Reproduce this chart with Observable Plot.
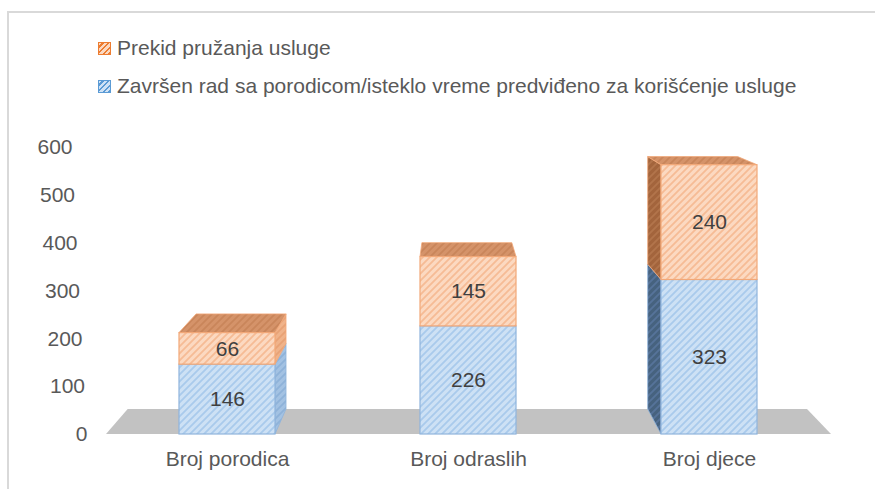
<!DOCTYPE html>
<html>
<head>
<meta charset="utf-8">
<script src="https://cdn.jsdelivr.net/npm/d3@7"></script>
<script src="https://cdn.jsdelivr.net/npm/@observablehq/plot@0.6"></script>
<style>
  html, body { margin: 0; padding: 0; background: #fff; }
  #wrap { position: relative; width: 875px; height: 489px; overflow: hidden; font-family: "Liberation Sans", Arial, sans-serif; }
  #frame { position: absolute; left: 7px; top: 11px; width: 900px; height: 600px; border-top: 2px solid #d9d9d9; border-left: 2px solid #d9d9d9; }
  .sw { position: absolute; left: 98px; width: 11px; height: 11px; border: 1.5px solid; }
  .lt { position: absolute; left: 117px; font-size: 21px; line-height: 24px; color: #595959; white-space: nowrap; }
  #chart { position: absolute; left: 0; top: 120px; }
</style>
</head>
<body>
<div id="wrap">
  <div id="frame"></div>
  <div id="legend"></div>
  <div id="chart"></div>
</div>
<script>
// ---- data ----
const categories = ["Broj porodica", "Broj odraslih", "Broj djece"];
const seriesNames = [
  "Završen rad sa porodicom/isteklo vreme predviđeno za korišćenje usluge",
  "Prekid pružanja usluge"
];
const completed = [146, 226, 323];
const interrupted = [66, 145, 240];
const yTicks = [0, 100, 200, 300, 400, 500, 600];
const legendOrder = ["Prekid pružanja usluge",
  "Završen rad sa porodicom/isteklo vreme predviđeno za korišćenje usluge"];

// ---- styles ----
const seriesStyle = {
  [seriesNames[0]]: {fill: "url(#pBlue)", stroke: "#8fb4dc", key: "blue",
    swBorder: "#5b9bd5", swBg: "repeating-linear-gradient(-45deg,#5b9bd5 0 1.5px,#cfe2f5 1.5px 4px)"},
  [seriesNames[1]]: {fill: "url(#pOrange)", stroke: "#f2a878", key: "orange",
    swBorder: "#ed7d31", swBg: "repeating-linear-gradient(-45deg,#ed7d31 0 1.5px,#fbd9c2 1.5px 4px)"}
};
const faceFill = {
  blue: {left: "url(#pBlueDark)", right: "url(#pBlueMid)", top: "url(#pBlueMid)"},
  orange: {left: "url(#pOrangeDark)", right: "url(#pOrangeMid)", top: "url(#pOrangeTop)"}
};

// ---- legend ----
const legend = document.getElementById("legend");
legendOrder.forEach((name, i) => {
  const st = seriesStyle[name];
  const sw = document.createElement("div");
  sw.className = "sw";
  sw.style.top = (42 + i * 38) + "px";
  sw.style.borderColor = st.swBorder;
  sw.style.background = st.swBg;
  const tx = document.createElement("div");
  tx.className = "lt";
  tx.style.top = (36 + i * 38) + "px";
  tx.textContent = name;
  legend.appendChild(sw);
  legend.appendChild(tx);
});

// ---- table ----
const rows = [];
categories.forEach((c, i) => {
  rows.push({cat: c, series: seriesNames[0], value: completed[i]});
  rows.push({cat: c, series: seriesNames[1], value: interrupted[i]});
});

const plot = Plot.plot({
  width: 875,
  height: 369,
  marginLeft: 106,
  marginRight: 44,
  marginTop: 27,
  marginBottom: 55,
  style: {fontFamily: "'Liberation Sans', Arial, sans-serif", fontSize: "21px", color: "#595959", background: "transparent", overflow: "visible"},
  x: {domain: categories, paddingInner: 0.6, paddingOuter: 0.3, label: null},
  y: {domain: [0, 600], label: null},
  color: {type: "identity"},
  marks: [
    Plot.axisY({ticks: yTicks, tickSize: 0, tickPadding: 34, label: null, fontSize: 21}),
    Plot.axisX({tickSize: 0, tickPadding: 17, label: null, fontSize: 21}),
    Plot.barY(rows, Plot.stackY({
      x: "cat", y: "value",
      fill: d => seriesStyle[d.series].fill,
      stroke: d => seriesStyle[d.series].stroke,
      strokeWidth: 1.2
    })),
    Plot.text(rows, Plot.stackY({x: "cat", y: "value", text: "value", fill: "#404040", fontSize: 21}))
  ]
});

// ---- patterns ----
const NS = "http://www.w3.org/2000/svg";
const defs = document.createElementNS(NS, "defs");
function pattern(id, base, stripe) {
  const p = document.createElementNS(NS, "pattern");
  p.setAttribute("id", id);
  p.setAttribute("patternUnits", "userSpaceOnUse");
  p.setAttribute("width", 7);
  p.setAttribute("height", 7);
  const r = document.createElementNS(NS, "rect");
  r.setAttribute("width", 7); r.setAttribute("height", 7); r.setAttribute("fill", base);
  const path = document.createElementNS(NS, "path");
  path.setAttribute("d", "M0,7 L7,0 M-1.75,1.75 L1.75,-1.75 M5.25,8.75 L8.75,5.25");
  path.setAttribute("stroke", stripe);
  path.setAttribute("stroke-width", 1.8);
  p.appendChild(r); p.appendChild(path);
  defs.appendChild(p);
}
pattern("pBlue", "#cde1f5", "#a9caec");
pattern("pOrange", "#fcd9c1", "#f6bb95");
pattern("pBlueDark", "#46627f", "#56739a");
pattern("pBlueMid", "#a3c2e3", "#8eb2d9");
pattern("pOrangeDark", "#a3643c", "#b2744b");
pattern("pOrangeMid", "#f0b38a", "#e8a275");
pattern("pOrangeTop", "#d59369", "#c9855a");
plot.insertBefore(defs, plot.firstChild);

// ---- 3D depth faces derived from the plot's scales ----
const xs = plot.scale("x"), ys = plot.scale("y");
const bw = xs.bandwidth;
const VP = [450, -84], depth = 0.063;
const back = ([x, y]) => [x + depth * (VP[0] - x), y + depth * (VP[1] - y)];
const g3d = document.createElementNS(NS, "g");
function poly(pts, fill, stroke) {
  const p = document.createElementNS(NS, "polygon");
  p.setAttribute("points", pts.map(q => q.join(",")).join(" "));
  p.setAttribute("fill", fill);
  if (stroke) { p.setAttribute("stroke", stroke); p.setAttribute("stroke-width", 0.8); }
  g3d.appendChild(p);
}
// floor
const y0 = ys.apply(0);
const fl = [xs.range[0], y0], fr = [xs.range[1], y0];
poly([fl, fr, back(fr), back(fl)], "#c2c2c2");
// bars
categories.forEach((c, i) => {
  const x0 = xs.apply(c), x1 = x0 + bw;
  const segs = [
    {lo: 0, hi: completed[i], s: seriesNames[0]},
    {lo: completed[i], hi: completed[i] + interrupted[i], s: seriesNames[1]}
  ];
  segs.forEach((sg, k) => {
    const key = seriesStyle[sg.s].key;
    const yb = ys.apply(sg.lo), yt = ys.apply(sg.hi);
    const L = [[x0, yt], [x0, yb]], R = [[x1, yt], [x1, yb]];
    if (back(L[0])[0] < x0) poly([L[0], back(L[0]), back(L[1]), L[1]], faceFill[key].left, seriesStyle[sg.s].stroke);
    if (back(R[0])[0] > x1) poly([R[0], back(R[0]), back(R[1]), R[1]], faceFill[key].right, seriesStyle[sg.s].stroke);
    if (k === segs.length - 1) poly([L[0], R[0], back(R[0]), back(L[0])], faceFill[key].top, seriesStyle[sg.s].stroke);
  });
});
const barG = plot.querySelector('g[aria-label="bar"]');
barG.parentNode.insertBefore(g3d, barG);

// perspective skew of the y tick labels (back wall)
plot.querySelectorAll('g[aria-label="y-axis tick label"] text').forEach(t => {
  const v = +t.textContent;
  t.setAttribute("dx", ((1 - v / 600) * 15).toFixed(1));
});

document.getElementById("chart").appendChild(plot);
</script>
</body>
</html>
